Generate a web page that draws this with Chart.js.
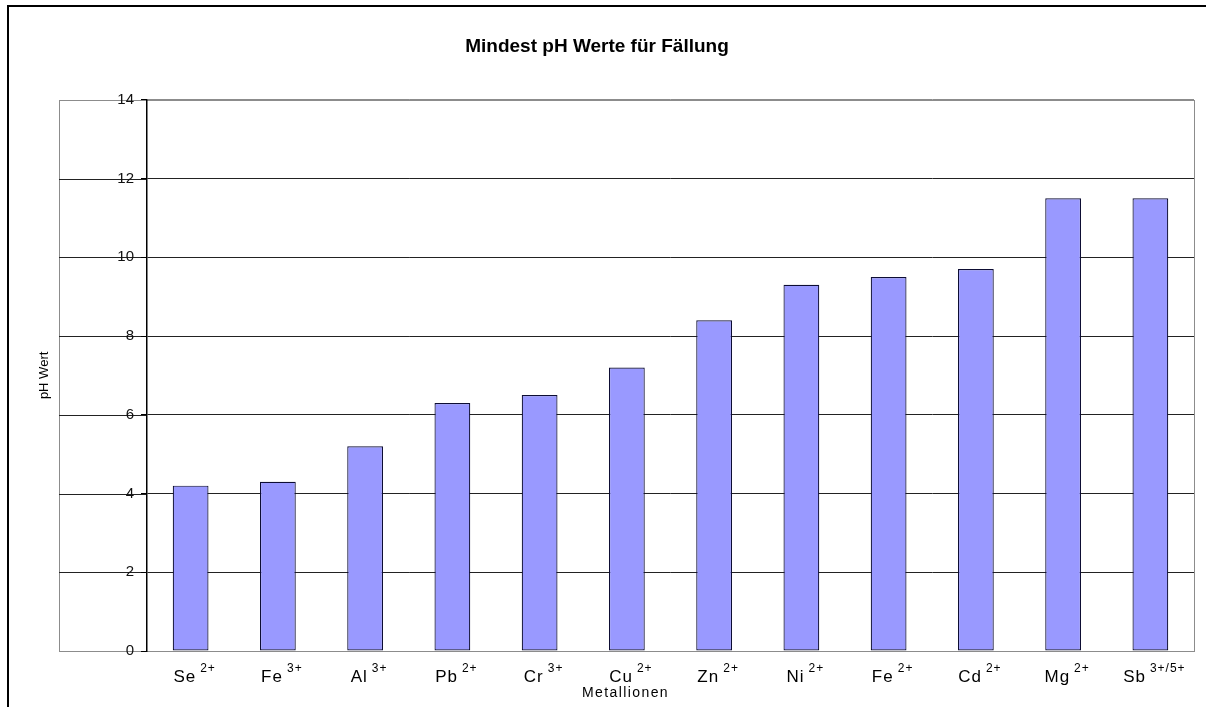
<!DOCTYPE html>
<html>
<head>
<meta charset="utf-8">
<script src="https://cdn.jsdelivr.net/npm/chart.js@4/dist/chart.umd.min.js"></script>
<style>
  html, body { margin: 0; padding: 0; background: #fff; }
  #wrap { width: 1206px; height: 707px; }
</style>
</head>
<body>
<div id="wrap"><canvas id="c"></canvas></div>
<script>
const elements = ['Se', 'Fe', 'Al', 'Pb', 'Cr', 'Cu', 'Zn', 'Ni', 'Fe', 'Cd', 'Mg', 'Sb'];
const charges = ['2+', '3+', '3+', '2+', '3+', '2+', '2+', '2+', '2+', '2+', '2+', '3+/5+'];
const phValues = [4.2, 4.3, 5.2, 6.3, 6.5, 7.2, 8.4, 9.3, 9.5, 9.7, 11.5, 11.5];
const yTicks = [0, 2, 4, 6, 8, 10, 12, 14];
const categories = elements.map((e, i) => e + ' ' + charges[i]);

const FONT = 'Arial, "Liberation Sans", sans-serif';
const frameGray = '#8c8c8c';
const gridDark = '#222';

// frame, extended gridlines and the ion labels with superscript charges
const framePlugin = {
  id: 'frame',
  beforeDraw(chart) {
    const { ctx, chartArea: a, scales: { y } } = chart;
    ctx.save();
    ctx.fillStyle = '#fff';
    ctx.fillRect(0, 0, chart.width, chart.height);
    // outer border of the picture
    ctx.strokeStyle = '#000';
    ctx.lineWidth = 2;
    ctx.strokeRect(8, 6, chart.width + 10, chart.height + 10);
    // plot area frame (starts left of the axis labels)
    const left = 59;
    const top = Math.round(y.getPixelForValue(14)) + 0.5;
    const bottom = Math.round(y.getPixelForValue(0)) + 0.5;
    ctx.lineWidth = 1;
    ctx.strokeStyle = frameGray;
    ctx.strokeRect(left + 0.5, top, a.right - left, bottom - top);
    ctx.strokeStyle = gridDark;
    yTicks.forEach(v => {
      if (v === 0 || v === 14) return;
      const py = Math.round(y.getPixelForValue(v)) + 0.5;
      ctx.beginPath();
      ctx.moveTo(left, py);
      ctx.lineTo(a.left, py);
      ctx.stroke();
    });
    ctx.restore();
  },
  afterDraw(chart) {
    const { ctx, chartArea: a, scales: { x } } = chart;
    ctx.save();
    ctx.fillStyle = '#000';
    ctx.textAlign = 'left';
    ctx.textBaseline = 'alphabetic';
    ctx.letterSpacing = '1px';
    elements.forEach((el, i) => {
      const cx = x.getPixelForValue(i) + 4;
      ctx.font = '17px ' + FONT;
      const wb = ctx.measureText(el).width;
      ctx.font = '12px ' + FONT;
      const ws = ctx.measureText(charges[i]).width;
      const gap = 4;
      const sx = cx - (wb + gap + ws) / 2;
      ctx.font = '17px ' + FONT;
      ctx.fillText(el, sx, a.bottom + 31);
      ctx.font = '12px ' + FONT;
      ctx.fillText(charges[i], sx + wb + gap, a.bottom + 21);
    });
    // x axis title
    ctx.font = '14px ' + FONT;
    ctx.letterSpacing = '1.4px';
    ctx.textAlign = 'center';
    ctx.fillText('Metallionen', (a.left + a.right) / 2 - 45, a.bottom + 46);
    ctx.restore();
  }
};

const ctx = document.getElementById('c').getContext('2d');
const myChart = new Chart(ctx, {
  type: 'bar',
  data: {
    labels: categories,
    datasets: [{
      label: 'pH Wert',
      data: phValues,
      backgroundColor: '#9999ff',
      borderColor: '#0d0d33',
      borderWidth: 1.2,
      borderSkipped: false,
      barPercentage: 0.41,
      categoryPercentage: 1
    }]
  },
  options: {
    responsive: true,
    maintainAspectRatio: false,
    animation: false,
    layout: { padding: { left: 0, right: 12, top: 0, bottom: 0 } },
    plugins: {
      legend: { display: false },
      tooltip: { enabled: false },
      title: {
        display: true,
        text: 'Mindest pH Werte für Fällung',
        color: '#000',
        font: { family: FONT, size: 19, weight: 'bold' },
        padding: { top: 35, bottom: 42 }
      }
    },
    scales: {
      x: {
        grid: { display: false },
        border: { display: true, color: frameGray },
        ticks: { display: false },
        afterFit(s) { s.height = 56; }
      },
      y: {
        min: 0,
        max: 14,
        afterBuildTicks(s) { s.ticks = yTicks.map(v => ({ value: v })); },
        ticks: {
          color: '#111',
          padding: 7,
          font: { family: FONT, size: 15 }
        },
        grid: {
          color: c => (c.tick && (c.tick.value === 0 || c.tick.value === 14)) ? frameGray : gridDark,
          tickColor: '#000',
          tickLength: 6
        },
        border: { display: true, color: '#000', width: 1.5 },
        title: {
          display: true,
          text: 'pH Wert',
          color: '#000',
          font: { family: FONT, size: 13 },
          padding: { top: 37, bottom: 0 }
        },
        afterFit(s) { s.width = 147; }
      }
    }
  },
  plugins: [framePlugin]
});
</script>
</body>
</html>
